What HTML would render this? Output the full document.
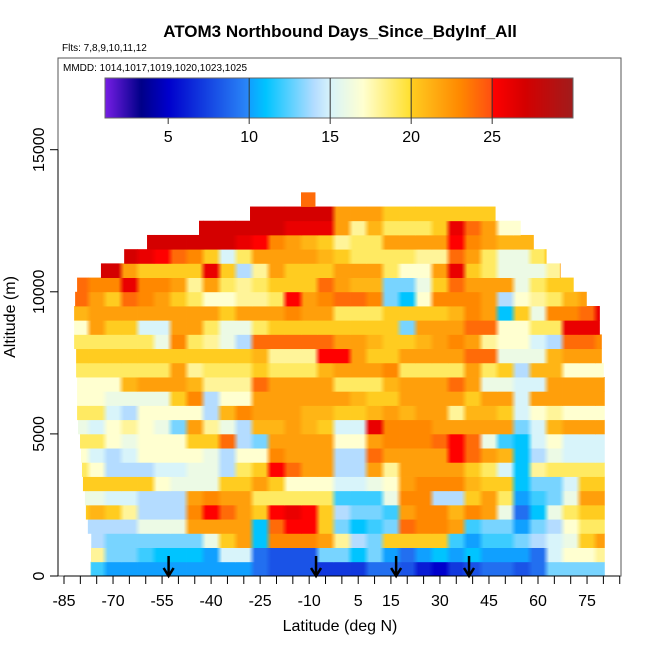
<!DOCTYPE html>
<html><head><meta charset="utf-8"><style>
html,body{margin:0;padding:0;background:#fff;}
svg{display:block;font-family:"Liberation Sans",sans-serif;}
</style></head><body>
<svg id="chart" width="650" height="650" viewBox="0 0 650 650" xmlns="http://www.w3.org/2000/svg">
<defs id="grads"></defs>
<text x="340" y="37" text-anchor="middle" font-size="17" font-weight="bold">ATOM3 Northbound Days_Since_BdyInf_All</text>
<text x="62" y="51" font-size="10">Flts: 7,8,9,10,11,12</text>
<g id="cells"></g>
<g id="arrows"></g>
<rect x="58" y="58" width="563" height="518" fill="none" stroke="#555" stroke-width="1"/>
<text x="63" y="71" font-size="10">MMDD: 1014,1017,1019,1020,1023,1025</text>
<g id="cbar"></g>
<g id="xaxis"></g>
<g id="yaxis"></g>
<text x="340" y="631" text-anchor="middle" font-size="16">Latitude (deg N)</text>
<text transform="translate(15,317) rotate(-90)" text-anchor="middle" font-size="16">Altitude (m)</text>
</svg>
<script>
const latBinStart = -82.5;
const latBinWidth = 5;
const altBinSize = 500;
const rowLatMin = [-77.0,-76.7,-76.7,-77.7,-78.3,-78.6,-79.2,-79.5,-79.8,-80.1,-80.7,-81.0,-81.0,-81.0,-81.3,-81.3,-81.9,-81.9,-81.9,-81.6,-81.0,-73.7,-66.6,-59.6,-43.7,-28.1,-12.5];
const rowLatMax = [80.3,80.3,80.3,80.3,80.3,80.3,80.3,80.3,80.3,80.3,80.3,80.3,80.3,80.3,80.0,79.4,79.4,78.8,78.8,74.8,70.8,66.8,62.5,58.6,54.6,46.9,-8.2];
const N = null;
const rows = [
[16,12,10,10,10,10,10,10,10,10,10,9,8,8,8,7,7,7,9,9,8,6,5,7,8,9,9,8,9,13,13,13,13],
[19,18,13,13,12,11,11,11,10,15,15,9,8,8,8,13,13,11,13,10,9,10,11,10,11,10,10,10,9,15,17,17,18],
[15,14,13,13,13,13,13,13,16,20,22,11,23,23,23,22,18,14,13,20,20,20,20,12,10,12,12,13,14,15,16,20,22],
[14,14,14,14,16,16,16,22,22,22,22,11,24,25,25,20,13,11,12,13,24,23,23,22,12,13,13,10,13,14,17,19,19],
[20,21,20,18,14,14,14,23,25,24,22,20,25,26,25,20,14,13,13,12,22,23,23,21,23,22,16,9,11,16,19,20,20],
[16,16,15,15,14,14,14,22,23,22,22,19,19,19,19,19,12,12,12,16,23,23,14,14,20,22,19,10,12,13,16,22,22],
[20,20,20,20,20,17,16,16,16,20,20,22,20,17,17,17,15,15,16,17,22,23,23,23,21,20,20,11,13,13,15,20,20],
[19,17,14,14,14,15,15,16,16,14,19,20,25,24,22,22,14,14,22,18,22,22,22,22,20,19,15,11,18,19,19,19,19],
[17,15,14,15,17,17,17,17,16,14,17,17,23,22,22,22,14,14,24,22,22,22,22,25,24,22,21,11,14,16,15,15,15],
[19,19,17,16,17,17,17,20,20,24,14,13,22,22,22,22,17,17,22,23,23,23,24,25,24,16,12,11,15,17,15,15,15],
[16,15,17,18,17,16,13,22,18,16,14,21,21,22,21,20,15,15,26,23,23,23,22,22,22,22,22,13,15,21,22,22,22],
[19,19,15,14,17,17,17,17,14,21,23,22,22,22,21,21,20,20,21,22,21,22,22,18,21,21,20,15,17,18,17,17,17],
[17,17,16,16,16,16,20,23,14,17,17,22,22,22,22,22,22,21,20,20,22,22,22,22,20,22,22,15,22,22,22,22,22],
[17,17,17,21,22,22,22,21,18,18,18,24,22,22,22,22,19,19,19,21,22,22,22,24,22,16,16,15,15,22,22,22,22],
[19,19,19,19,19,19,22,18,19,19,19,20,19,19,19,21,22,22,22,23,19,19,19,19,22,19,20,14,21,21,17,17,17],
[20,20,20,20,20,20,20,20,20,20,20,21,18,18,18,25,25,22,20,20,22,22,22,22,24,24,16,16,16,21,22,22,22],
[19,19,19,19,19,16,23,19,18,16,14,24,24,24,24,24,22,22,21,20,20,21,22,23,22,18,17,17,15,14,24,24,23],
[17,22,20,20,15,15,22,22,19,16,16,19,20,20,20,20,20,20,20,20,13,22,22,22,24,24,17,17,19,19,26,26,26],
[21,22,22,22,22,22,22,22,22,20,22,22,22,23,22,22,19,19,19,20,20,20,20,21,23,22,11,20,16,23,23,24,26],
[24,22,20,24,23,22,20,19,17,17,18,18,19,25,22,23,24,24,23,13,11,17,23,23,23,22,14,17,18,19,21,22,N],
[24,23,23,26,23,23,22,18,22,19,18,19,20,20,20,24,22,21,21,13,13,16,20,24,22,22,22,16,19,20,20,20,N],
[N,27,27,22,20,20,20,20,26,20,14,18,22,20,20,20,22,22,22,19,17,17,22,26,20,19,16,16,16,18,22,N,N],
[N,N,N,27,26,25,24,23,20,15,19,22,22,22,22,21,20,19,19,19,19,18,18,24,22,19,16,16,19,20,N,N,N],
[N,N,N,N,27,27,27,27,27,27,26,25,23,22,21,20,18,19,19,22,22,22,22,25,23,22,21,21,21,N,N,N,N],
[N,N,N,N,N,N,N,27,27,27,27,27,27,26,26,26,22,18,21,19,19,19,20,26,24,22,17,17,N,N,N,N,N],
[N,N,N,N,N,N,N,N,N,N,27,27,27,27,27,27,22,22,22,20,20,20,20,20,20,20,N,N,N,N,N,N,N],
[N,N,N,N,N,N,N,N,N,N,N,N,N,N,24,N,N,N,N,N,N,N,N,N,N,N,N,N,N,N,N,N,N]
];
const arrowLats = [-53.0,-7.9,16.6,38.9];
const xTickLabels = [-85,-70,-55,-40,-25,-10,5,15,30,45,60,75];
const yTickValues = [0,5000,10000,15000];
const cbarTicks = [5,10,15,20,25];
const colorStops = [[1,'#7a1ee8'],[3.3,'#000088'],[5,'#0000cc'],[9.9,'#2a88f8'],[10,'#10a0ff'],[11,'#00c4ff'],[14,'#b4dcff'],[15,'#d8f4fa'],[17,'#ffffd0'],[19.9,'#ffe030'],[20,'#ffcc20'],[23,'#ff8800'],[24.9,'#ff5010'],[25,'#ff0000'],[27,'#d40000'],[30,'#a01c1c']];

const NS='http://www.w3.org/2000/svg';
function xS(lat){return 64+(lat+85)*3.269;}
function yS(alt){return 576-alt*0.02842;}
function cbX(v){return 105+(v-1.1)*16.2;}
function hex(c){return [parseInt(c.slice(1,3),16),parseInt(c.slice(3,5),16),parseInt(c.slice(5,7),16)];}
function color(v){
  if(v<=colorStops[0][0]) return colorStops[0][1];
  for(let i=1;i<colorStops.length;i++){
    if(v<=colorStops[i][0]){
      const a=colorStops[i-1],b=colorStops[i];const t=(v-a[0])/(b[0]-a[0]);
      const ca=hex(a[1]),cb=hex(b[1]);
      return 'rgb('+ca.map((x,k)=>Math.round(x+(cb[k]-x)*t)).join(',')+')';
    }
  }
  return colorStops[colorStops.length-1][1];
}
function mk(tag,attrs,parent){const e=document.createElementNS(NS,tag);for(const k in attrs)e.setAttribute(k,attrs[k]);parent.appendChild(e);return e;}

const defs=document.getElementById('grads');
const cells=document.getElementById('cells');
rows.forEach((row,r)=>{
  const y0=yS((r+1)*altBinSize), y1=yS(r*altBinSize);
  const gx1=xS(rowLatMin[r]), gx2=xS(rowLatMax[r]);
  const g=mk('linearGradient',{id:'g'+r,gradientUnits:'userSpaceOnUse',x1:gx1,y1:0,x2:gx2,y2:0},defs);
  row.forEach((v,c)=>{
    if(v===null) return;
    const lc=latBinStart+(c+0.5)*latBinWidth;
    [lc-1.6,lc+1.6].forEach(l=>{
      let off=(xS(l)-gx1)/(gx2-gx1);
      off=Math.max(0,Math.min(1,off));
      mk('stop',{offset:off.toFixed(4),'stop-color':color(v)},g);
    });
  });
  row.forEach((v,c)=>{
    if(v===null) return;
    let l0=Math.max(latBinStart+c*latBinWidth,rowLatMin[r]);
    let l1=Math.min(latBinStart+(c+1)*latBinWidth,rowLatMax[r]);
    if(l1<=l0) return;
    const e=mk('rect',{x:xS(l0).toFixed(2),y:y0.toFixed(2),width:(xS(l1)-xS(l0)+0.4).toFixed(2),height:(y1-y0+0.4).toFixed(2),fill:'url(#g'+r+')'},cells);
    
    
  });
});

const arrows=document.getElementById('arrows');
arrowLats.forEach(lat=>{
  const x=xS(lat);
  const g=mk('g',{},arrows);
  
  
  mk('line',{x1:x,y1:556,x2:x,y2:575,stroke:'#000','stroke-width':2.5},g);
  mk('polyline',{points:(x-5)+',568 '+x+',576 '+(x+5)+',568',fill:'none',stroke:'#000','stroke-width':2.5},g);
});

const cb=document.getElementById('cbar');
for(let px=105;px<573;px++){
  const v=1.1+(px-105)/16.2;
  mk('rect',{x:px,y:78,width:1.2,height:40,fill:color(v)},cb);
}
mk('rect',{x:105,y:78,width:468,height:40,fill:'none',stroke:'#666','stroke-width':1},cb);
cbarTicks.forEach(t=>{
  const x=cbX(t);
  if(t>5){mk('line',{x1:x,y1:78,x2:x,y2:118,stroke:'#333','stroke-width':1},cb);}
  mk('line',{x1:x,y1:118,x2:x,y2:124,stroke:'#333','stroke-width':1},cb);
  const tx=mk('text',{x:x,y:142,'text-anchor':'middle','font-size':16},cb);
  tx.textContent=t;
  
  
});

const xa=document.getElementById('xaxis');
mk('line',{x1:xS(-85),y1:576,x2:xS(85),y2:576,stroke:'#000','stroke-width':1},xa);
for(let lat=-85;lat<=85;lat+=5){mk('line',{x1:xS(lat),y1:576,x2:xS(lat),y2:584,stroke:'#000','stroke-width':1},xa);}
xTickLabels.forEach(l=>{
  const t=mk('text',{x:xS(l),y:606,'text-anchor':'middle','font-size':16},xa);
  t.textContent=l;
  
  
});
const ya=document.getElementById('yaxis');
mk('line',{x1:58,y1:yS(0),x2:58,y2:yS(15000),stroke:'#000','stroke-width':1},ya);
yTickValues.forEach(v=>{
  const y=yS(v);
  mk('line',{x1:50,y1:y,x2:58,y2:y,stroke:'#000','stroke-width':1},ya);
  const t=mk('text',{transform:'translate(44,'+y+') rotate(-90)','text-anchor':'middle','font-size':16},ya);
  t.textContent=v;
  
  
});
</script>
</body></html>
